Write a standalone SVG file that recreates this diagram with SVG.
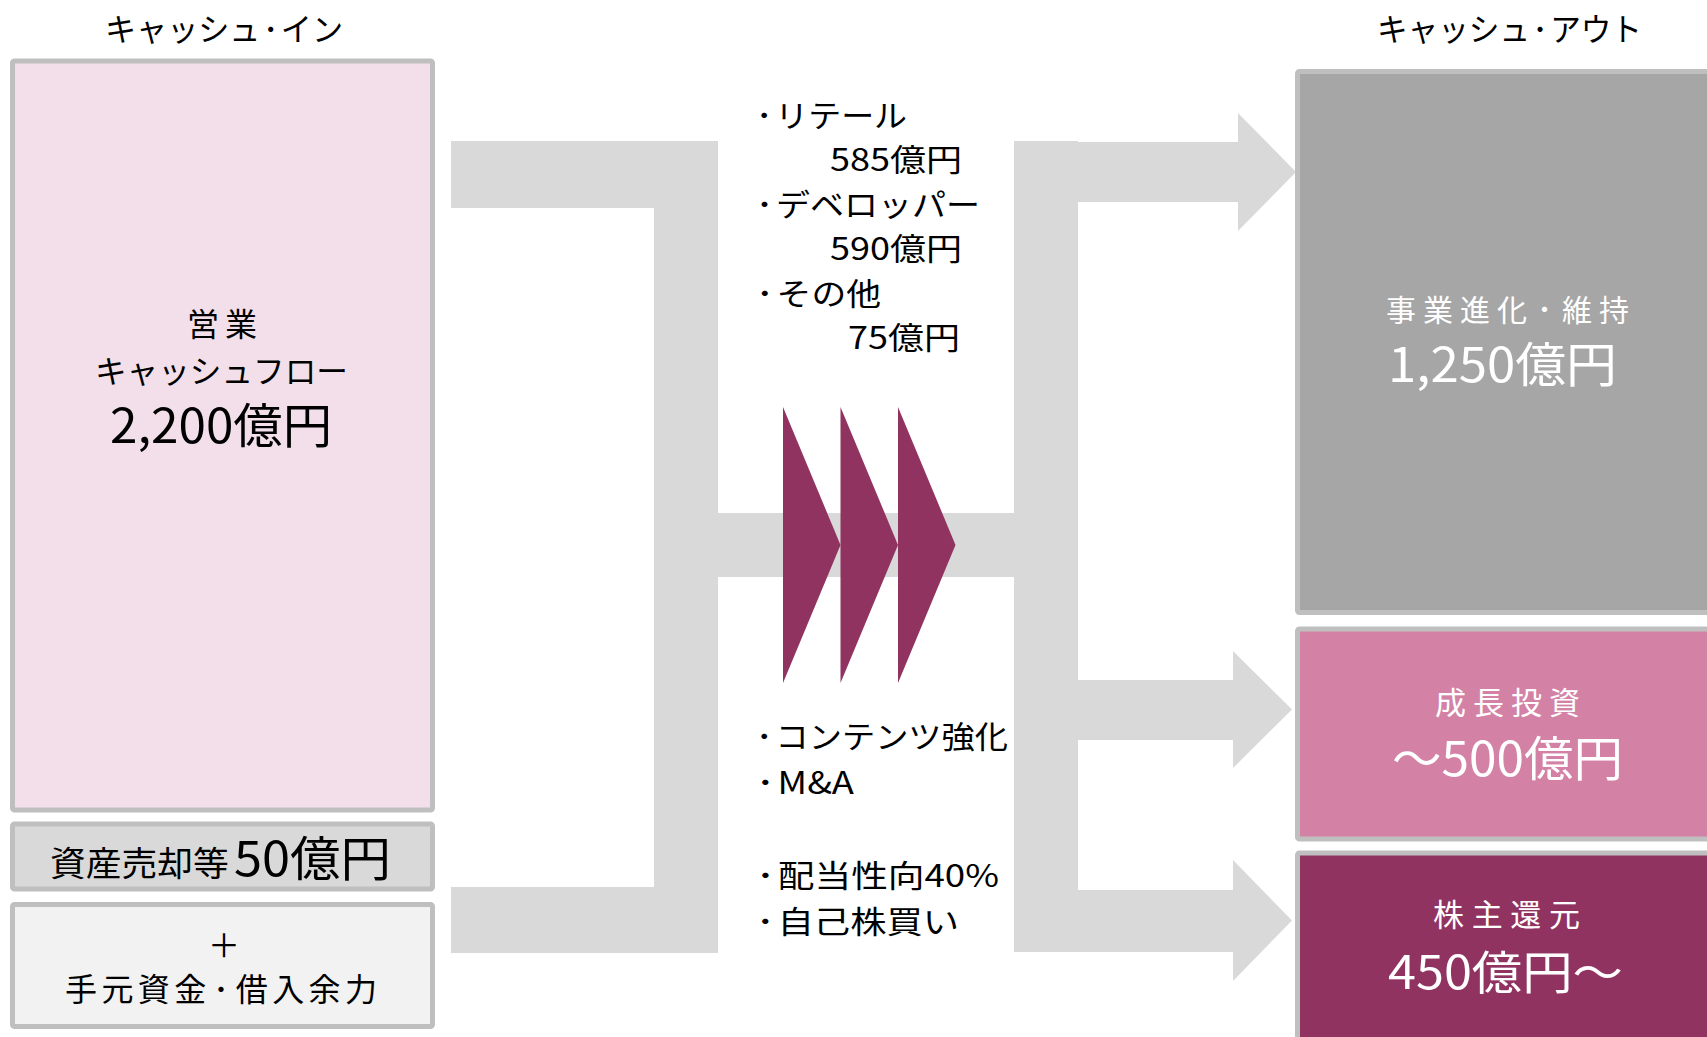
<svg xmlns="http://www.w3.org/2000/svg" width="1707" height="1037" viewBox="0 0 1707 1037">
<style>
text{font-family:"Noto Sans CJK JP","Noto Sans",sans-serif;}
.box{stroke:#bfbfbf;stroke-width:5;}
.flow{fill:#d9d9d9;}
.chev{fill:#913361;}
.dk{fill:#000;}
.wt{fill:#fff;}
.mid{font-size:31px;}
.dot{font-size:21px;font-weight:700;}
</style>
<rect width="1707" height="1037" fill="#fff"/>
<g id="connectors">
<path class="flow" d="M451,141 H718 V953 H451 V887 H654 V208 H451 Z"/>
<rect class="flow" x="718" y="513" width="296" height="64"/>
<rect class="flow" x="1014" y="141" width="64" height="811"/>
<polygon class="flow" points="1078,142 1238,142 1238,113 1296,172 1238,231 1238,202 1078,202"/>
<polygon class="flow" points="1078,680 1233,680 1233,651 1292,709.5 1233,768 1233,740 1078,740"/>
<polygon class="flow" points="1078,890 1233,890 1233,860 1292,920.5 1233,981 1233,952 1078,952"/>
</g>
<g id="chevrons">
<polygon class="chev" points="783,407 840.5,545 783,683"/>
<polygon class="chev" points="840.5,407 898,545 840.5,683"/>
<polygon class="chev" points="898,407 955.5,545 898,683"/>
</g>
<g id="header-in"><text class="dk" x="105" y="41" font-size="32" textLength="238" lengthAdjust="spacingAndGlyphs">キャッシュ<tspan class="dot" dy="-4">・</tspan><tspan dy="4">イン</tspan></text></g>
<g id="header-out"><text class="dk" x="1377" y="41" font-size="32" textLength="265" lengthAdjust="spacingAndGlyphs">キャッシュ<tspan class="dot" dy="-4">・</tspan><tspan dy="4">アウト</tspan></text></g>
<g id="node-opcf">
<rect class="box" x="12.5" y="61" width="420" height="749" rx="2" fill="#f2dfe9"/>
<text class="dk" x="222" y="336" font-size="32" text-anchor="middle" textLength="70" lengthAdjust="spacing">営業</text>
<text class="dk" x="221.5" y="383" font-size="32" text-anchor="middle" textLength="253" lengthAdjust="spacingAndGlyphs">キャッシュフロー</text>
<text class="dk" x="221" y="443" font-size="48" text-anchor="middle" textLength="222" lengthAdjust="spacingAndGlyphs">2,200億円</text>
</g>
<g id="node-asset">
<rect class="box" x="12.5" y="824" width="420" height="65" rx="2" fill="#d9d9d9"/>
<text class="dk" x="50" y="876" textLength="341" lengthAdjust="spacingAndGlyphs"><tspan font-size="34">資産売却等</tspan><tspan font-size="48" dx="5">50億円</tspan></text>
</g>
<g id="node-funds">
<rect class="box" x="12.5" y="904.5" width="420" height="122" rx="2" fill="#f2f2f2"/>
<text class="dk" x="224" y="957" font-size="32" text-anchor="middle">＋</text>
<text class="dk" x="65" y="1001" font-size="32" textLength="312" lengthAdjust="spacing">手元資金<tspan class="dot" dy="-4">・</tspan><tspan dy="4">借入余力</tspan></text>
</g>
<g id="label-breakdown">
<text class="dk mid" x="753" y="127" textLength="154" lengthAdjust="spacingAndGlyphs"><tspan class="dot" dy="-4">・</tspan><tspan dy="4">リテール</tspan></text>
<text class="dk mid" x="962" y="171" text-anchor="end" textLength="132" lengthAdjust="spacingAndGlyphs">585億円</text>
<text class="dk mid" x="753" y="216" textLength="227" lengthAdjust="spacingAndGlyphs"><tspan class="dot" dy="-4">・</tspan><tspan dy="4">デベロッパー</tspan></text>
<text class="dk mid" x="962" y="260" text-anchor="end" textLength="132" lengthAdjust="spacingAndGlyphs">590億円</text>
<text class="dk mid" x="753" y="305" textLength="128" lengthAdjust="spacingAndGlyphs"><tspan class="dot" dy="-4">・</tspan><tspan dy="4">その他</tspan></text>
<text class="dk mid" x="960" y="349" text-anchor="end" textLength="112" lengthAdjust="spacingAndGlyphs">75億円</text>
</g>
<g id="label-growth">
<text class="dk mid" x="753" y="748" textLength="255" lengthAdjust="spacingAndGlyphs"><tspan class="dot" dy="-4">・</tspan><tspan dy="4">コンテンツ強化</tspan></text>
<text class="dk mid" x="753" y="794" textLength="101" lengthAdjust="spacingAndGlyphs"><tspan class="dot" dy="-4">・</tspan><tspan dy="4">M&amp;A</tspan></text>
</g>
<g id="label-return">
<text class="dk mid" x="753" y="887" textLength="246" lengthAdjust="spacingAndGlyphs"><tspan class="dot" dy="-4">・</tspan><tspan dy="4">配当性向40%</tspan></text>
<text class="dk mid" x="753" y="933" textLength="206" lengthAdjust="spacingAndGlyphs"><tspan class="dot" dy="-4">・</tspan><tspan dy="4">自己株買い</tspan></text>
</g>
<g id="node-maintain">
<rect class="box" x="1297.5" y="71.5" width="420" height="541" rx="2" fill="#a6a6a6"/>
<text class="wt" x="1386" y="321" font-size="30" textLength="243" lengthAdjust="spacing">事業進化<tspan class="dot" dy="-4">・</tspan><tspan dy="4">維持</tspan></text>
<text class="wt" x="1502.5" y="382" font-size="48" text-anchor="middle" textLength="229" lengthAdjust="spacingAndGlyphs">1,250億円</text>
</g>
<g id="node-growth">
<rect class="box" x="1297.5" y="629" width="420" height="210" rx="2" fill="#d382a6"/>
<text class="wt" x="1507.5" y="714" font-size="31" text-anchor="middle" textLength="145" lengthAdjust="spacing">成長投資</text>
<text class="wt" x="1507.5" y="776" font-size="48" text-anchor="middle" textLength="231" lengthAdjust="spacingAndGlyphs">～500億円</text>
</g>
<g id="node-return">
<rect class="box" x="1297.5" y="853" width="420" height="200" rx="2" fill="#913361"/>
<text class="wt" x="1506.5" y="926" font-size="31" text-anchor="middle" textLength="147" lengthAdjust="spacing">株主還元</text>
<text class="wt" x="1505.5" y="989" font-size="46" text-anchor="middle" textLength="235" lengthAdjust="spacingAndGlyphs">450億円～</text>
</g>
</svg>
